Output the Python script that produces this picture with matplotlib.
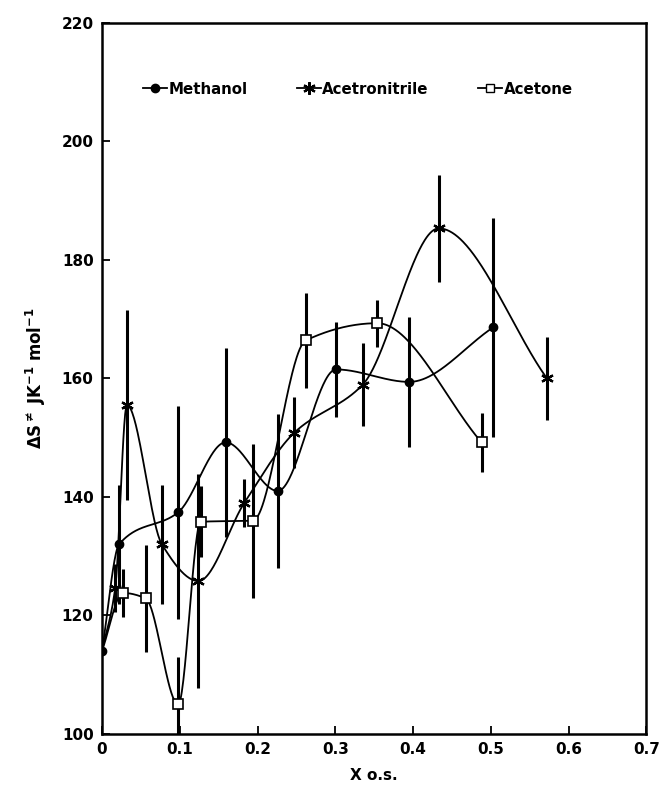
import numpy as np
import matplotlib
matplotlib.use("Agg")
import matplotlib.pyplot as plt

# ---------------- data ----------------
meth_x = [0.0, 0.022, 0.098, 0.159, 0.226, 0.301, 0.395, 0.503]
meth_y = [114, 132, 137.4, 149.2, 141, 161.5, 159.4, 168.6]
meth_e = [0, 10, 18, 16, 13, 8, 11, 18.5]

acn_x = [0.0, 0.017, 0.032, 0.077, 0.124, 0.183, 0.247, 0.335, 0.433, 0.572]
acn_y = [114, 124.6, 155.5, 132, 125.8, 139, 150.8, 158.9, 185.3, 160]
acn_e = [0, 4, 16, 10, 18, 4, 6, 7, 9, 7]

ace_x = [0.0, 0.027, 0.056, 0.098, 0.127, 0.194, 0.262, 0.354, 0.488]
ace_y = [114, 123.8, 122.9, 105, 135.8, 136, 166.4, 169.3, 149.2]
ace_e = [0, 4, 9, 8, 6, 13, 8, 4, 5]

xticks = [0, 0.1, 0.2, 0.3, 0.4, 0.5, 0.6, 0.7]
xticklabels = ["0", "0.1", "0.2", "0.3", "0.4", "0.5", "0.6", "0.7"]
yticks = [100, 120, 140, 160, 180, 200, 220]


def pchip(x, y, n=500):
    x = np.asarray(x, float)
    y = np.asarray(y, float)
    h = np.diff(x)
    d = np.diff(y) / h
    k = len(x)
    m = np.zeros(k)
    for i in range(1, k - 1):
        if d[i - 1] * d[i] <= 0:
            m[i] = 0.0
        else:
            w1 = 2 * h[i] + h[i - 1]
            w2 = h[i] + 2 * h[i - 1]
            m[i] = (w1 + w2) / (w1 / d[i - 1] + w2 / d[i])
    m[0] = d[0]
    m[-1] = d[-1]
    xs = np.linspace(x[0], x[-1], n)
    ys = np.empty_like(xs)
    for j, xv in enumerate(xs):
        i = int(np.clip(np.searchsorted(x, xv, side="right") - 1, 0, k - 2))
        t = (xv - x[i]) / h[i]
        h00 = 2 * t ** 3 - 3 * t ** 2 + 1
        h10 = t ** 3 - 2 * t ** 2 + t
        h01 = -2 * t ** 3 + 3 * t ** 2
        h11 = t ** 3 - t ** 2
        ys[j] = h00 * y[i] + h10 * h[i] * m[i] + h01 * y[i + 1] + h11 * h[i] * m[i + 1]
    return xs, ys


fig = plt.figure(figsize=(6.6, 7.93), dpi=100)
ax = fig.add_axes([0.1545, 0.0744, 0.825, 0.897])

lw = 1.3
for xs_, ys_, es_ in [(meth_x, meth_y, meth_e), (acn_x, acn_y, acn_e), (ace_x, ace_y, ace_e)]:
    sx, sy = pchip(xs_, ys_)
    ax.plot(sx, sy, color="black", lw=lw, zorder=2)
    ax.errorbar(xs_[1:], ys_[1:], yerr=es_[1:], fmt="none", ecolor="black",
                elinewidth=2.2, capsize=0, zorder=3)

ax.plot(meth_x, meth_y, "o", ms=6, color="black", zorder=4)
ax.plot(acn_x[1:], acn_y[1:], marker=(6, 2, 0), ls="none", ms=9, mew=1.6,
        color="black", zorder=4)
ax.plot(ace_x[1:], ace_y[1:], "s", ms=7, mfc="white", mec="black", mew=1.2, zorder=4)

# legend handles
h1, = ax.plot([], [], "-o", color="black", ms=6, lw=lw)
h2, = ax.plot([], [], "-", marker=(6, 2, 0), color="black", ms=9, mew=1.6, lw=lw)
h3, = ax.plot([], [], "-s", color="black", mfc="white", ms=6, lw=lw)
ax.legend([h1, h2, h3], ["Methanol", "Acetronitrile", "Acetone"], ncol=3,
          frameon=False, loc="upper left", bbox_to_anchor=(0.05, 0.936),
          handlelength=1.6, handletextpad=0.1, columnspacing=3.3,
          prop={"weight": "bold", "size": 10.8})

ax.set_xlim(0, 0.7)
ax.set_ylim(100, 220)
ax.set_xticks(xticks)
ax.set_xticklabels(xticklabels)
ax.set_yticks(yticks)
ax.tick_params(direction="in", length=6, width=1.3, labelsize=11, pad=6)
for lab in ax.get_xticklabels() + ax.get_yticklabels():
    lab.set_fontweight("bold")
for sp in ax.spines.values():
    sp.set_linewidth(1.8)

ax.set_xlabel("X o.s.", fontsize=11, fontweight="bold", labelpad=8)
ax.set_ylabel(r"$\mathbf{\Delta S^{\neq}\ JK^{-1}\ mol^{-1}}$", fontsize=12, labelpad=10)

fig.savefig("out.png", dpi=100)
